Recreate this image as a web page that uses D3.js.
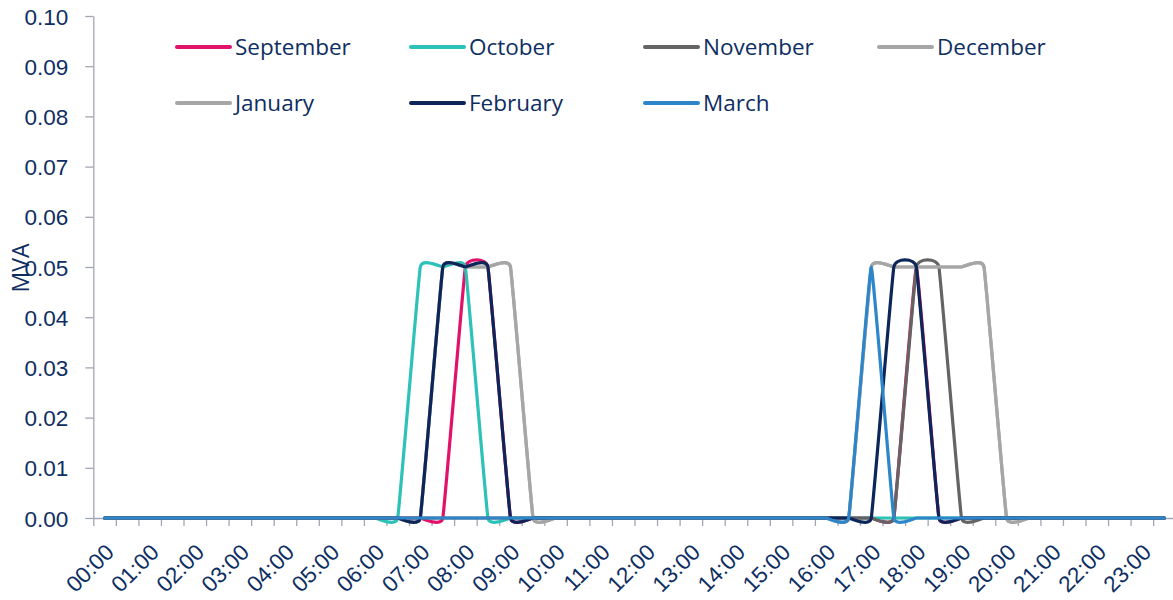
<!DOCTYPE html>
<html>
<head>
<meta charset="utf-8">
<script src="https://cdn.jsdelivr.net/npm/d3@7"></script>
<style>
  html, body { margin: 0; padding: 0; background: #fff; }
  svg { display: block; font-family: "Open Sans", sans-serif; }
</style>
</head>
<body>
<svg id="chart" width="1173" height="600"></svg>
<script>
// ---- Data ----
const times = [
  "00:00","00:30","01:00","01:30","02:00","02:30","03:00","03:30","04:00","04:30","05:00","05:30",
  "06:00","06:30","07:00","07:30","08:00","08:30","09:00","09:30","10:00","10:30","11:00","11:30",
  "12:00","12:30","13:00","13:30","14:00","14:30","15:00","15:30","16:00","16:30","17:00","17:30",
  "18:00","18:30","19:00","19:30","20:00","20:30","21:00","21:30","22:00","22:30","23:00","23:30"
];
const hourLabels = [
  "00:00","01:00","02:00","03:00","04:00","05:00","06:00","07:00","08:00","09:00","10:00","11:00",
  "12:00","13:00","14:00","15:00","16:00","17:00","18:00","19:00","20:00","21:00","22:00","23:00"
];
const yTicks = [0, 0.01, 0.02, 0.03, 0.04, 0.05, 0.06, 0.07, 0.08, 0.09, 0.10];

const september = [
  0,0,0,0,0,0,0,0,0,0,0,0,
  0,0,0,0,0.05,0.05,0,0,0,0,0,0,
  0,0,0,0,0,0,0,0,0,0,0,0,
  0.05,0,0,0,0,0,0,0,0,0,0,0
];
const october = [
  0,0,0,0,0,0,0,0,0,0,0,0,
  0,0,0.05,0.05,0.05,0,0,0,0,0,0,0,
  0,0,0,0,0,0,0,0,0,0,0,0,
  0,0,0,0,0,0,0,0,0,0,0,0
];
const november = [
  0,0,0,0,0,0,0,0,0,0,0,0,
  0,0,0,0,0,0,0,0,0,0,0,0,
  0,0,0,0,0,0,0,0,0,0,0,0,
  0.05,0.05,0,0,0,0,0,0,0,0,0,0
];
const december = [
  0,0,0,0,0,0,0,0,0,0,0,0,
  0,0,0,0.05,0.05,0.05,0.05,0,0,0,0,0,
  0,0,0,0,0,0,0,0,0,0,0.05,0.05,
  0.05,0.05,0.05,0.05,0,0,0,0,0,0,0,0
];
const january = [
  0,0,0,0,0,0,0,0,0,0,0,0,
  0,0,0,0.05,0.05,0.05,0.05,0,0,0,0,0,
  0,0,0,0,0,0,0,0,0,0,0.05,0.05,
  0.05,0.05,0.05,0.05,0,0,0,0,0,0,0,0
];
const february = [
  0,0,0,0,0,0,0,0,0,0,0,0,
  0,0,0,0.05,0.05,0.05,0,0,0,0,0,0,
  0,0,0,0,0,0,0,0,0,0,0,0.05,
  0.05,0,0,0,0,0,0,0,0,0,0,0
];
const march = [
  0,0,0,0,0,0,0,0,0,0,0,0,
  0,0,0,0,0,0,0,0,0,0,0,0,
  0,0,0,0,0,0,0,0,0,0,0.05,0,
  0,0,0,0,0,0,0,0,0,0,0,0
];

const seriesNames = ["September","October","November","December","January","February","March"];
const seriesValues = [september, october, november, december, january, february, march];
const seriesColors = ["#E2126B","#2DC2B8","#646464","#A6A6A6","#A6A6A6","#0C2659","#2E86CA"];

// ---- Layout ----
const textColor = "#0E2E62";
const axisColor = "#A3A6B4";
const plotLeft = 93.3, plotRight = 1175.7, plotTop = 16, plotBottom = 518;

const svg = d3.select("#chart");

const x = d3.scaleBand().domain(times).range([plotLeft, plotRight]).paddingInner(0).paddingOuter(0);
const xLin = d3.scaleLinear().domain([0, times.length]).range([plotLeft, plotRight]);
const y = d3.scaleLinear().domain([0, 0.1]).range([plotBottom, plotTop]);

// Y axis
const yAxis = svg.append("g")
  .attr("transform", `translate(${plotLeft},0)`)
  .call(d3.axisLeft(y).tickValues(yTicks).tickSize(8).tickPadding(17).tickFormat(d3.format(".2f")).tickSizeOuter(0));
yAxis.select(".domain").attr("stroke", axisColor).attr("stroke-width", 1.3);
yAxis.selectAll(".tick line").attr("stroke", axisColor).attr("stroke-width", 1.3);
yAxis.selectAll(".tick text").attr("fill", textColor).style("font-size", "22.5px").attr("dy", "0.36em");

// X axis boundaries (tick marks)
const xTickAxis = svg.append("g")
  .attr("transform", `translate(0,${plotBottom})`)
  .call(d3.axisBottom(xLin).tickValues(d3.range(times.length + 1)).tickSize(8).tickSizeOuter(0).tickFormat(""));
xTickAxis.select(".domain").attr("stroke", axisColor).attr("stroke-width", 1.3);
xTickAxis.selectAll(".tick line").attr("stroke", axisColor).attr("stroke-width", 1.3);

// X labels
const xLabelAxis = svg.append("g")
  .attr("transform", `translate(0,${plotBottom})`)
  .call(d3.axisBottom(x).tickValues(hourLabels).tickSize(0).tickSizeOuter(0));
xLabelAxis.select(".domain").remove();
xLabelAxis.selectAll(".tick text")
  .attr("fill", textColor)
  .style("font-size", "22.5px")
  .attr("text-anchor", "end")
  .attr("y", 0)
  .attr("dy", "0.36em")
  .attr("transform", "translate(5,30) rotate(-45)");

// Y title
svg.append("text")
  .attr("transform", "translate(29,268) rotate(-90)")
  .attr("text-anchor", "middle")
  .attr("fill", textColor)
  .style("font-size", "23px")
  .text("MVA");

// Lines
const line = d3.line()
  .x((d, i) => x(times[i]) + x.bandwidth() / 2)
  .y(d => y(d))
  .curve(d3.curveCardinal.tension(0.77));

svg.append("g").selectAll("path")
  .data(seriesValues)
  .join("path")
  .attr("fill", "none")
  .attr("stroke", (d, i) => seriesColors[i])
  .attr("stroke-width", 3.2)
  .attr("stroke-linejoin", "round")
  .attr("stroke-linecap", "round")
  .attr("d", d => line(d));

// Legend
const legendCols = 4, colW = 234, legX = 177, legY = 47, rowH = 56;
const leg = svg.append("g").selectAll("g")
  .data(seriesNames)
  .join("g")
  .attr("transform", (d, i) => `translate(${legX + (i % legendCols) * colW},${legY + Math.floor(i / legendCols) * rowH})`);
leg.append("line")
  .attr("x1", 0).attr("x2", 53).attr("y1", 0).attr("y2", 0)
  .attr("stroke", (d, i) => seriesColors[i])
  .attr("stroke-width", 4)
  .attr("stroke-linecap", "round");
leg.append("text")
  .attr("x", 58).attr("y", 0).attr("dy", "0.36em")
  .attr("fill", textColor)
  .style("font-size", "22.5px")
  .text(d => d);
</script>
</body>
</html>
